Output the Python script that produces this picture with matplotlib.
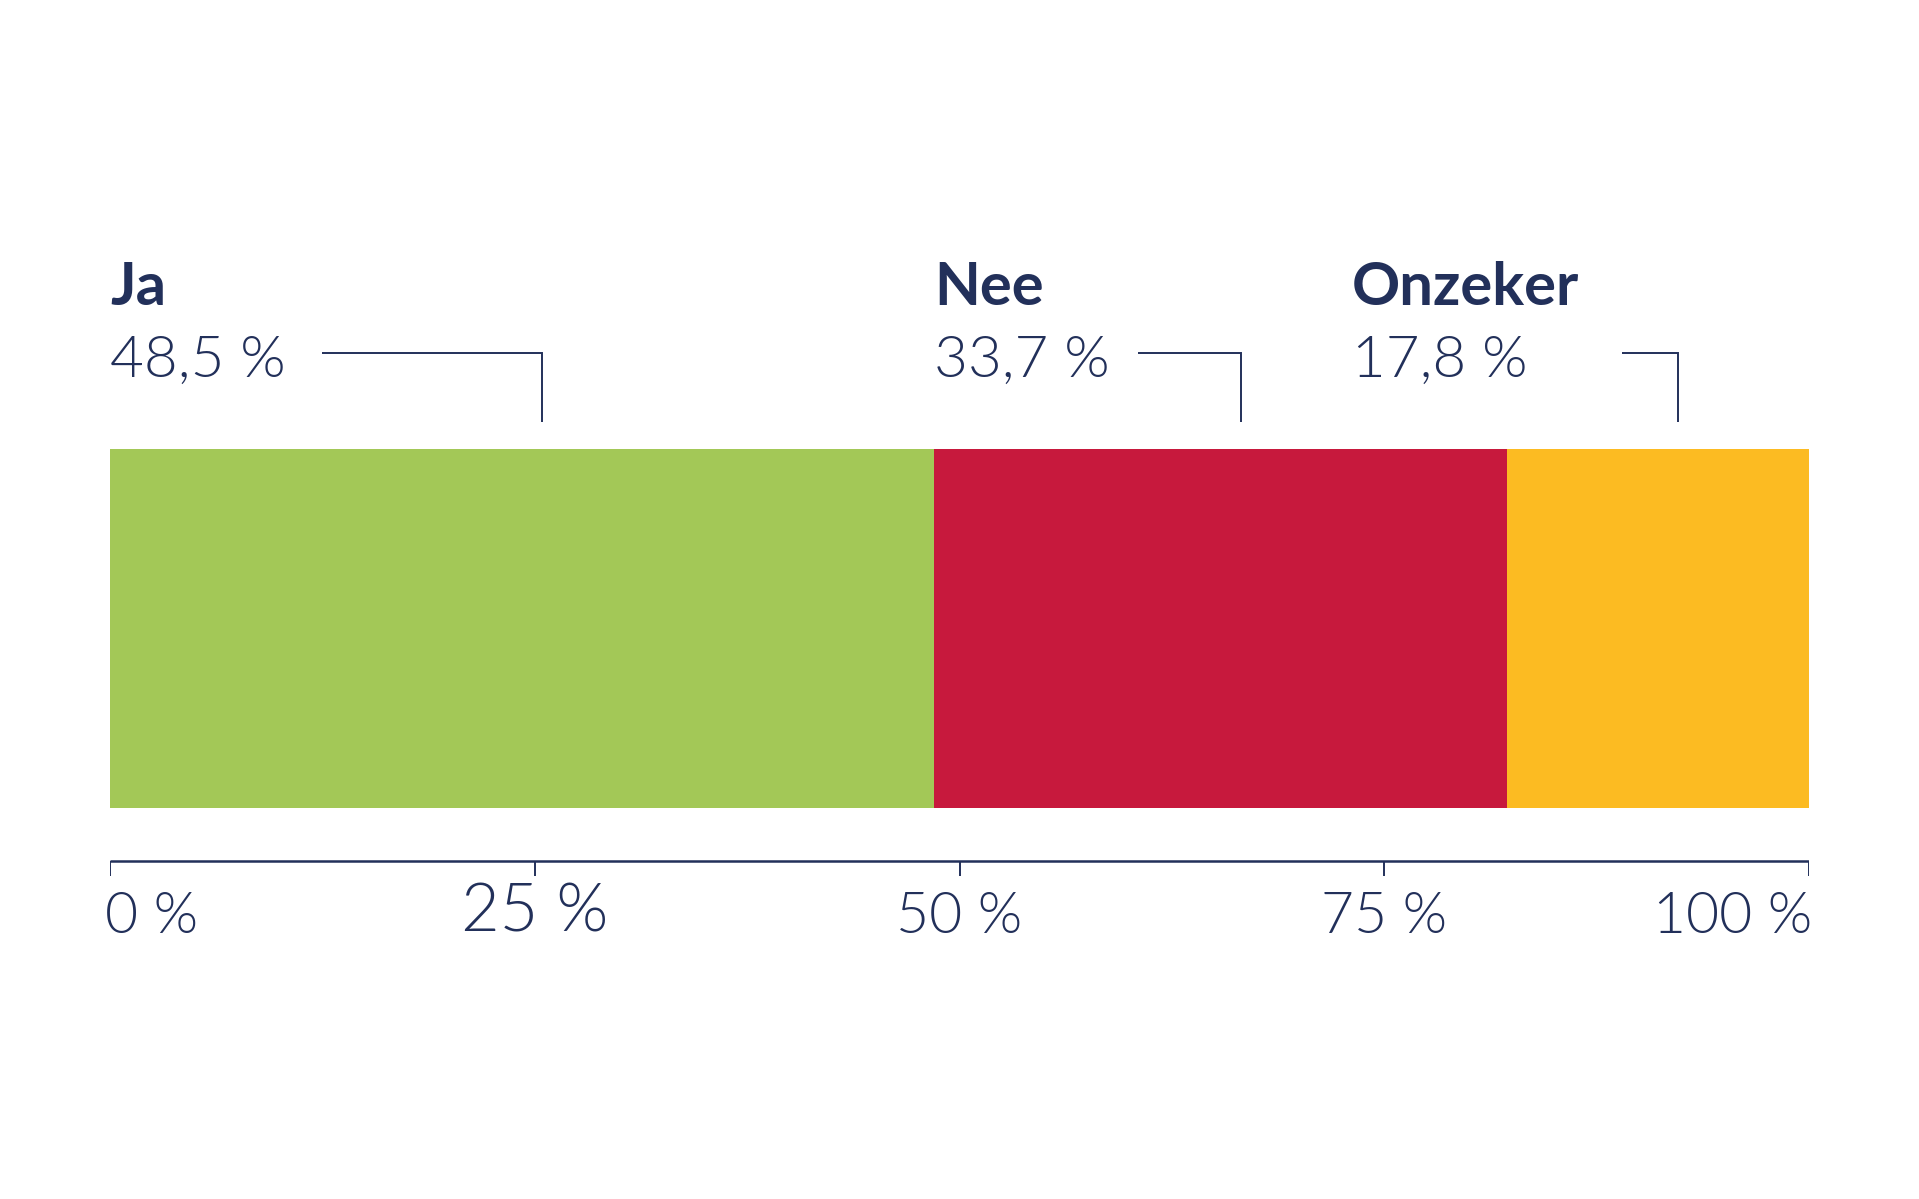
import matplotlib
matplotlib.use("Agg")
import matplotlib.pyplot as plt
import numpy as np

# data
categories = ["Ja", "Nee", "Onzeker"]
values = [48.5, 33.7, 17.8]
colors = ["#A3C857", "#C7193D", "#FCBB22"]
tick_values = [0, 25, 50, 75, 100]
tick_labels = ["0 %", "25 %", "50 %", "75 %", "100 %"]

navy = "#22305A"
plt.rcParams["font.family"] = ["Lato", "DejaVu Sans"]

W, H = 1919, 1199
fig = plt.figure(figsize=(W / 100, H / 100), dpi=100)
x0, x1 = 110, 1809
ax = fig.add_axes([x0 / W, 0, (x1 - x0) / W, 1])
ax.set_xlim(0, 100)
ax.set_ylim(H, 0)  # pixel rows, top down
ax.axis("off")

# stacked bar
lefts = np.concatenate([[0], np.cumsum(values)[:-1]])
bar_top, bar_bot = 449, 808
ax.barh((bar_top + bar_bot) / 2, values, left=lefts, height=bar_bot - bar_top,
        color=colors, linewidth=0)

# labels with leader lines
label_x = [0, lefts[1], 73.1]
line_start = [12.46, 60.5, 88.98]
for i, cat in enumerate(categories):
    ax.text(label_x[i], 305, cat, fontsize=43, fontweight="bold", color=navy,
            ha="left", va="baseline")
    ax.text(label_x[i], 377, f"{values[i]:.1f} %".replace(".", ","), fontsize=42,
            fontweight=300, color=navy, ha="left", va="baseline")
    xe = lefts[i] + values[i] / 2 + 1.2
    ax.plot([line_start[i], xe, xe], [353, 353, 422], color=navy, lw=1.4,
            solid_joinstyle="miter", solid_capstyle="butt")

# bottom axis
ax.plot([0, 100], [861, 861], color=navy, lw=1.8, solid_capstyle="butt")
ax.vlines(tick_values, 861, 876, color=navy, lw=1.4)
for v, lab in zip(tick_values, tick_labels):
    ha = "left" if v == 0 else ("right" if v == 100 else "center")
    xx = -0.3 if v == 0 else (100.2 if v == 100 else v)
    big = v == 25
    ax.text(xx, 931 if big else 933, lab, fontsize=48 if big else 41,
            fontweight=300, color=navy, ha=ha, va="baseline")

fig.savefig("out.png", dpi=100, facecolor="white")
